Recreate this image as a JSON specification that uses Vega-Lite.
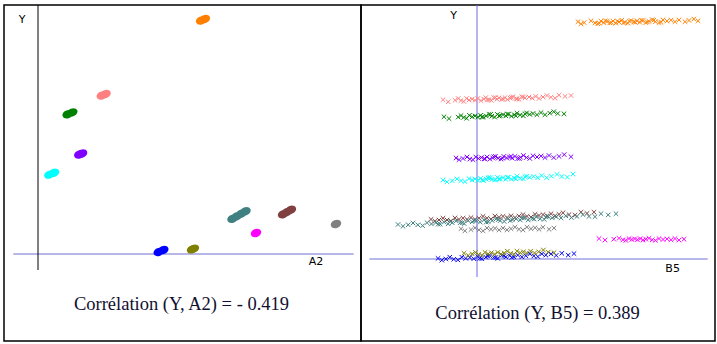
{
  "$schema": "https://vega.github.io/schema/vega-lite/v6.json",
  "padding": {"left": 3, "top": 3, "right": 3, "bottom": 5},
  "spacing": 0,
  "bounds": "flush",
  "background": "white",
  "config": {"view": {"stroke": "#000000", "strokeWidth": 1.5}, "axis": {"disable": true}},
  "resolve": {"scale": {"x": "independent", "y": "independent"}},
  "datasets": {
    "a2": [
      {"c": "orange", "a2": 4.798, "y": 7.785}, {"c": "orange", "a2": 4.908, "y": 7.835},
      {"c": "pink", "a2": 1.878, "y": 5.285}, {"c": "pink", "a2": 1.987, "y": 5.335},
      {"c": "green", "a2": 0.873, "y": 4.659}, {"c": "green", "a2": 1.009, "y": 4.721},
      {"c": "purple", "a2": 1.215, "y": 3.314}, {"c": "purple", "a2": 1.297, "y": 3.352},
      {"c": "cyan", "a2": 0.335, "y": 2.646}, {"c": "cyan", "a2": 0.471, "y": 2.708},
      {"c": "brown", "a2": 7.209, "y": 1.325}, {"c": "brown", "a2": 7.324, "y": 1.4}, {"c": "brown", "a2": 7.439, "y": 1.475},
      {"c": "teal", "a2": 5.721, "y": 1.175}, {"c": "teal", "a2": 5.848, "y": 1.258}, {"c": "teal", "a2": 5.976, "y": 1.342}, {"c": "teal", "a2": 6.103, "y": 1.425},
      {"c": "gray", "a2": 8.765, "y": 1.0},
      {"c": "magenta", "a2": 6.412, "y": 0.7},
      {"c": "olive", "a2": 4.532, "y": 0.154}, {"c": "olive", "a2": 4.586, "y": 0.179},
      {"c": "blue", "a2": 3.55, "y": 0.069}, {"c": "blue", "a2": 3.686, "y": 0.131}
    ],
    "b5": [
      {"c":"orange","b5":2.525,"y":7.91},{"c":"orange","b5":2.6,"y":7.84},{"c":"orange","b5":2.68,"y":7.88},{"c":"orange","b5":2.85,"y":7.94},{"c":"orange","b5":2.95,"y":7.87},{"c":"orange","b5":3.02,"y":7.84},{"c":"orange","b5":3.1,"y":7.93},{"c":"orange","b5":3.17,"y":7.88},{"c":"orange","b5":3.25,"y":7.92},{"c":"orange","b5":3.32,"y":7.87},{"c":"orange","b5":3.4,"y":7.93},{"c":"orange","b5":3.47,"y":7.86},{"c":"orange","b5":3.55,"y":7.9},{"c":"orange","b5":3.62,"y":7.96},{"c":"orange","b5":3.7,"y":7.89},{"c":"orange","b5":3.77,"y":7.86},{"c":"orange","b5":3.85,"y":7.95},{"c":"orange","b5":3.92,"y":7.9},{"c":"orange","b5":4.0,"y":7.94},{"c":"orange","b5":4.07,"y":7.89},{"c":"orange","b5":4.15,"y":7.95},{"c":"orange","b5":4.22,"y":7.88},{"c":"orange","b5":4.3,"y":7.92},{"c":"orange","b5":4.38,"y":7.98},{"c":"orange","b5":4.46,"y":7.91},{"c":"orange","b5":4.55,"y":7.88},{"c":"orange","b5":4.65,"y":7.97},{"c":"orange","b5":4.75,"y":7.93},{"c":"orange","b5":4.85,"y":7.96},{"c":"orange","b5":4.95,"y":7.91},{"c":"orange","b5":5.05,"y":7.97},{"c":"orange","b5":5.2,"y":7.91},{"c":"orange","b5":5.3,"y":7.95},{"c":"orange","b5":5.42,"y":8.0},{"c":"orange","b5":5.525,"y":7.94},
      {"c":"orange","b5":3.06,"y":7.86},{"c":"orange","b5":3.21,"y":7.94},{"c":"orange","b5":3.36,"y":7.88},{"c":"orange","b5":3.51,"y":7.93},{"c":"orange","b5":3.66,"y":7.87},{"c":"orange","b5":3.81,"y":7.93},{"c":"orange","b5":3.96,"y":7.89},{"c":"orange","b5":4.11,"y":7.96},{"c":"orange","b5":4.26,"y":7.9},{"c":"orange","b5":4.42,"y":7.96},{"c":"orange","b5":4.6,"y":7.89},
      {"c":"pink","b5":-0.85,"y":5.31},{"c":"pink","b5":-0.72,"y":5.24},{"c":"pink","b5":-0.55,"y":5.29},{"c":"pink","b5":-0.47,"y":5.35},{"c":"pink","b5":-0.4,"y":5.28},{"c":"pink","b5":-0.33,"y":5.25},{"c":"pink","b5":-0.26,"y":5.35},{"c":"pink","b5":-0.2,"y":5.3},{"c":"pink","b5":-0.12,"y":5.33},{"c":"pink","b5":-0.05,"y":5.29},{"c":"pink","b5":0.02,"y":5.35},{"c":"pink","b5":0.1,"y":5.28},{"c":"pink","b5":0.17,"y":5.33},{"c":"pink","b5":0.22,"y":5.38},{"c":"pink","b5":0.3,"y":5.31},{"c":"pink","b5":0.36,"y":5.29},{"c":"pink","b5":0.42,"y":5.38},{"c":"pink","b5":0.5,"y":5.33},{"c":"pink","b5":0.55,"y":5.37},{"c":"pink","b5":0.62,"y":5.32},{"c":"pink","b5":0.7,"y":5.38},{"c":"pink","b5":0.76,"y":5.32},{"c":"pink","b5":0.83,"y":5.36},{"c":"pink","b5":0.9,"y":5.41},{"c":"pink","b5":0.98,"y":5.35},{"c":"pink","b5":1.05,"y":5.32},{"c":"pink","b5":1.12,"y":5.41},{"c":"pink","b5":1.2,"y":5.37},{"c":"pink","b5":1.3,"y":5.4},{"c":"pink","b5":1.38,"y":5.36},{"c":"pink","b5":1.47,"y":5.42},{"c":"pink","b5":1.55,"y":5.35},{"c":"pink","b5":1.65,"y":5.4},{"c":"pink","b5":1.75,"y":5.45},{"c":"pink","b5":1.85,"y":5.39},{"c":"pink","b5":1.95,"y":5.36},{"c":"pink","b5":2.05,"y":5.46},{"c":"pink","b5":2.2,"y":5.42},{"c":"pink","b5":2.35,"y":5.45},
      {"c":"pink","b5":0.26,"y":5.3},{"c":"pink","b5":0.46,"y":5.38},{"c":"pink","b5":0.66,"y":5.33},{"c":"pink","b5":0.86,"y":5.39},{"c":"pink","b5":1.0,"y":5.33},{"c":"pink","b5":1.16,"y":5.4},
      {"c":"green","b5":-0.825,"y":4.74},{"c":"green","b5":-0.7,"y":4.68},{"c":"green","b5":-0.47,"y":4.73},{"c":"green","b5":-0.4,"y":4.78},{"c":"green","b5":-0.33,"y":4.72},{"c":"green","b5":-0.26,"y":4.69},{"c":"green","b5":-0.19,"y":4.79},{"c":"green","b5":-0.12,"y":4.74},{"c":"green","b5":-0.05,"y":4.77},{"c":"green","b5":0.02,"y":4.73},{"c":"green","b5":0.09,"y":4.79},{"c":"green","b5":0.16,"y":4.73},{"c":"green","b5":0.23,"y":4.77},{"c":"green","b5":0.3,"y":4.82},{"c":"green","b5":0.37,"y":4.76},{"c":"green","b5":0.44,"y":4.73},{"c":"green","b5":0.51,"y":4.82},{"c":"green","b5":0.58,"y":4.78},{"c":"green","b5":0.65,"y":4.81},{"c":"green","b5":0.72,"y":4.77},{"c":"green","b5":0.79,"y":4.83},{"c":"green","b5":0.86,"y":4.76},{"c":"green","b5":0.93,"y":4.81},{"c":"green","b5":1.0,"y":4.86},{"c":"green","b5":1.08,"y":4.8},{"c":"green","b5":1.16,"y":4.77},{"c":"green","b5":1.24,"y":4.87},{"c":"green","b5":1.32,"y":4.82},{"c":"green","b5":1.4,"y":4.85},{"c":"green","b5":1.5,"y":4.81},{"c":"green","b5":1.6,"y":4.88},{"c":"green","b5":1.7,"y":4.81},{"c":"green","b5":1.82,"y":4.86},{"c":"green","b5":1.92,"y":4.91},{"c":"green","b5":2.02,"y":4.85},{"c":"green","b5":2.175,"y":4.84},
      {"c":"green","b5":0.12,"y":4.73},{"c":"green","b5":0.34,"y":4.82},{"c":"green","b5":0.55,"y":4.77},{"c":"green","b5":0.76,"y":4.83},{"c":"green","b5":0.97,"y":4.77},{"c":"green","b5":1.2,"y":4.84},
      {"c":"purple","b5":-0.525,"y":3.37},{"c":"purple","b5":-0.45,"y":3.31},{"c":"purple","b5":-0.35,"y":3.35},{"c":"purple","b5":-0.25,"y":3.4},{"c":"purple","b5":-0.18,"y":3.33},{"c":"purple","b5":-0.1,"y":3.31},{"c":"purple","b5":-0.03,"y":3.4},{"c":"purple","b5":0.04,"y":3.35},{"c":"purple","b5":0.11,"y":3.38},{"c":"purple","b5":0.18,"y":3.34},{"c":"purple","b5":0.25,"y":3.4},{"c":"purple","b5":0.32,"y":3.33},{"c":"purple","b5":0.39,"y":3.37},{"c":"purple","b5":0.46,"y":3.42},{"c":"purple","b5":0.53,"y":3.36},{"c":"purple","b5":0.6,"y":3.33},{"c":"purple","b5":0.67,"y":3.42},{"c":"purple","b5":0.74,"y":3.37},{"c":"purple","b5":0.81,"y":3.4},{"c":"purple","b5":0.88,"y":3.36},{"c":"purple","b5":0.95,"y":3.42},{"c":"purple","b5":1.02,"y":3.35},{"c":"purple","b5":1.09,"y":3.39},{"c":"purple","b5":1.16,"y":3.45},{"c":"purple","b5":1.24,"y":3.38},{"c":"purple","b5":1.32,"y":3.35},{"c":"purple","b5":1.4,"y":3.44},{"c":"purple","b5":1.5,"y":3.4},{"c":"purple","b5":1.6,"y":3.43},{"c":"purple","b5":1.7,"y":3.38},{"c":"purple","b5":1.8,"y":3.45},{"c":"purple","b5":1.92,"y":3.38},{"c":"purple","b5":2.05,"y":3.42},{"c":"purple","b5":2.18,"y":3.48},{"c":"purple","b5":2.35,"y":3.41},
      {"c":"purple","b5":0.2,"y":3.34},{"c":"purple","b5":0.42,"y":3.41},{"c":"purple","b5":0.64,"y":3.36},{"c":"purple","b5":0.85,"y":3.42},{"c":"purple","b5":1.06,"y":3.35},
      {"c":"cyan","b5":-0.85,"y":2.63},{"c":"cyan","b5":-0.75,"y":2.57},{"c":"cyan","b5":-0.62,"y":2.61},{"c":"cyan","b5":-0.5,"y":2.67},{"c":"cyan","b5":-0.4,"y":2.61},{"c":"cyan","b5":-0.3,"y":2.58},{"c":"cyan","b5":-0.2,"y":2.68},{"c":"cyan","b5":-0.12,"y":2.63},{"c":"cyan","b5":-0.05,"y":2.67},{"c":"cyan","b5":0.02,"y":2.62},{"c":"cyan","b5":0.09,"y":2.69},{"c":"cyan","b5":0.16,"y":2.62},{"c":"cyan","b5":0.23,"y":2.66},{"c":"cyan","b5":0.3,"y":2.72},{"c":"cyan","b5":0.37,"y":2.65},{"c":"cyan","b5":0.44,"y":2.63},{"c":"cyan","b5":0.51,"y":2.72},{"c":"cyan","b5":0.58,"y":2.67},{"c":"cyan","b5":0.65,"y":2.71},{"c":"cyan","b5":0.72,"y":2.66},{"c":"cyan","b5":0.79,"y":2.73},{"c":"cyan","b5":0.86,"y":2.66},{"c":"cyan","b5":0.93,"y":2.7},{"c":"cyan","b5":1.0,"y":2.76},{"c":"cyan","b5":1.08,"y":2.69},{"c":"cyan","b5":1.16,"y":2.67},{"c":"cyan","b5":1.24,"y":2.76},{"c":"cyan","b5":1.32,"y":2.72},{"c":"cyan","b5":1.42,"y":2.75},{"c":"cyan","b5":1.52,"y":2.71},{"c":"cyan","b5":1.62,"y":2.78},{"c":"cyan","b5":1.74,"y":2.71},{"c":"cyan","b5":1.86,"y":2.76},{"c":"cyan","b5":2.0,"y":2.82},{"c":"cyan","b5":2.12,"y":2.75},{"c":"cyan","b5":2.26,"y":2.73},{"c":"cyan","b5":2.4,"y":2.83},
      {"c":"cyan","b5":0.13,"y":2.63},{"c":"cyan","b5":0.27,"y":2.7},{"c":"cyan","b5":0.34,"y":2.71},{"c":"cyan","b5":0.47,"y":2.65},{"c":"cyan","b5":0.55,"y":2.66},{"c":"cyan","b5":0.76,"y":2.72},{"c":"cyan","b5":0.97,"y":2.67},{"c":"cyan","b5":1.2,"y":2.74},
      {"c":"brown","b5":-1.15,"y":1.32},{"c":"brown","b5":-1.05,"y":1.26},{"c":"brown","b5":-0.95,"y":1.3},{"c":"brown","b5":-0.85,"y":1.36},{"c":"brown","b5":-0.75,"y":1.3},{"c":"brown","b5":-0.65,"y":1.27},{"c":"brown","b5":-0.55,"y":1.37},{"c":"brown","b5":-0.45,"y":1.32},{"c":"brown","b5":-0.35,"y":1.36},{"c":"brown","b5":-0.25,"y":1.32},{"c":"brown","b5":-0.15,"y":1.38},{"c":"brown","b5":-0.05,"y":1.32},{"c":"brown","b5":0.05,"y":1.36},{"c":"brown","b5":0.15,"y":1.42},{"c":"brown","b5":0.25,"y":1.36},{"c":"brown","b5":0.35,"y":1.33},{"c":"brown","b5":0.45,"y":1.43},{"c":"brown","b5":0.55,"y":1.39},{"c":"brown","b5":0.65,"y":1.42},{"c":"brown","b5":0.75,"y":1.38},{"c":"brown","b5":0.85,"y":1.44},{"c":"brown","b5":0.95,"y":1.38},{"c":"brown","b5":1.05,"y":1.43},{"c":"brown","b5":1.15,"y":1.48},{"c":"brown","b5":1.25,"y":1.42},{"c":"brown","b5":1.35,"y":1.4},{"c":"brown","b5":1.45,"y":1.49},{"c":"brown","b5":1.55,"y":1.45},{"c":"brown","b5":1.65,"y":1.48},{"c":"brown","b5":1.75,"y":1.44},{"c":"brown","b5":1.85,"y":1.51},{"c":"brown","b5":1.95,"y":1.44},{"c":"brown","b5":2.05,"y":1.49},{"c":"brown","b5":2.15,"y":1.54},{"c":"brown","b5":2.3,"y":1.48},{"c":"brown","b5":2.45,"y":1.46},{"c":"brown","b5":2.6,"y":1.56},{"c":"brown","b5":2.75,"y":1.52},{"c":"brown","b5":2.925,"y":1.56},
      {"c":"teal","b5":-1.975,"y":1.15},{"c":"teal","b5":-1.85,"y":1.09},{"c":"teal","b5":-1.72,"y":1.14},{"c":"teal","b5":-1.6,"y":1.2},{"c":"teal","b5":-1.48,"y":1.14},{"c":"teal","b5":-1.36,"y":1.11},{"c":"teal","b5":-1.25,"y":1.21},{"c":"teal","b5":-1.14,"y":1.17},{"c":"teal","b5":-1.03,"y":1.21},{"c":"teal","b5":-0.92,"y":1.16},{"c":"teal","b5":-0.82,"y":1.23},{"c":"teal","b5":-0.72,"y":1.17},{"c":"teal","b5":-0.62,"y":1.21},{"c":"teal","b5":-0.52,"y":1.27},{"c":"teal","b5":-0.42,"y":1.21},{"c":"teal","b5":-0.32,"y":1.18},{"c":"teal","b5":-0.22,"y":1.28},{"c":"teal","b5":-0.12,"y":1.24},{"c":"teal","b5":-0.02,"y":1.28},{"c":"teal","b5":0.08,"y":1.23},{"c":"teal","b5":0.18,"y":1.3},{"c":"teal","b5":0.28,"y":1.24},{"c":"teal","b5":0.38,"y":1.28},{"c":"teal","b5":0.48,"y":1.34},{"c":"teal","b5":0.58,"y":1.28},{"c":"teal","b5":0.68,"y":1.25},{"c":"teal","b5":0.78,"y":1.35},{"c":"teal","b5":0.88,"y":1.31},{"c":"teal","b5":0.98,"y":1.34},{"c":"teal","b5":1.08,"y":1.3},{"c":"teal","b5":1.18,"y":1.37},{"c":"teal","b5":1.28,"y":1.3},{"c":"teal","b5":1.38,"y":1.35},{"c":"teal","b5":1.48,"y":1.41},{"c":"teal","b5":1.58,"y":1.34},{"c":"teal","b5":1.68,"y":1.32},{"c":"teal","b5":1.78,"y":1.42},{"c":"teal","b5":1.88,"y":1.37},{"c":"teal","b5":1.98,"y":1.41},{"c":"teal","b5":2.1,"y":1.37},{"c":"teal","b5":2.22,"y":1.44},{"c":"teal","b5":2.36,"y":1.38},{"c":"teal","b5":2.5,"y":1.42},{"c":"teal","b5":2.65,"y":1.48},{"c":"teal","b5":2.8,"y":1.42},{"c":"teal","b5":2.95,"y":1.41},{"c":"teal","b5":3.1,"y":1.51},{"c":"teal","b5":3.28,"y":1.47},{"c":"teal","b5":3.475,"y":1.51},
      {"c":"teal","b5":-0.97,"y":1.16},{"c":"teal","b5":-0.67,"y":1.25},{"c":"teal","b5":-0.37,"y":1.21},{"c":"teal","b5":-0.07,"y":1.28},{"c":"teal","b5":0.23,"y":1.23},{"c":"teal","b5":0.53,"y":1.31},{"c":"teal","b5":0.83,"y":1.28},{"c":"teal","b5":1.13,"y":1.37},{"c":"teal","b5":1.43,"y":1.33},{"c":"teal","b5":1.73,"y":1.4},
      {"c":"gray","b5":-0.4,"y":1.01},{"c":"gray","b5":-0.3,"y":0.94},{"c":"gray","b5":-0.15,"y":0.98},{"c":"gray","b5":-0.05,"y":1.04},{"c":"gray","b5":0.05,"y":0.97},{"c":"gray","b5":0.15,"y":0.94},{"c":"gray","b5":0.25,"y":1.03},{"c":"gray","b5":0.35,"y":0.99},{"c":"gray","b5":0.45,"y":1.02},{"c":"gray","b5":0.55,"y":0.97},{"c":"gray","b5":0.65,"y":1.03},{"c":"gray","b5":0.75,"y":0.97},{"c":"gray","b5":0.85,"y":1.01},{"c":"gray","b5":0.95,"y":1.06},{"c":"gray","b5":1.05,"y":0.99},{"c":"gray","b5":1.15,"y":0.97},{"c":"gray","b5":1.25,"y":1.06},{"c":"gray","b5":1.35,"y":1.01},{"c":"gray","b5":1.45,"y":1.04},{"c":"gray","b5":1.55,"y":0.99},{"c":"gray","b5":1.65,"y":1.06},{"c":"gray","b5":1.8,"y":0.99},{"c":"gray","b5":1.925,"y":1.03},
      {"c":"magenta","b5":3.05,"y":0.68},{"c":"magenta","b5":3.2,"y":0.63},{"c":"magenta","b5":3.42,"y":0.66},{"c":"magenta","b5":3.55,"y":0.69},{"c":"magenta","b5":3.65,"y":0.64},{"c":"magenta","b5":3.72,"y":0.62},{"c":"magenta","b5":3.8,"y":0.68},{"c":"magenta","b5":3.87,"y":0.65},{"c":"magenta","b5":3.94,"y":0.67},{"c":"magenta","b5":4.01,"y":0.64},{"c":"magenta","b5":4.08,"y":0.68},{"c":"magenta","b5":4.15,"y":0.63},{"c":"magenta","b5":4.22,"y":0.66},{"c":"magenta","b5":4.3,"y":0.69},{"c":"magenta","b5":4.38,"y":0.64},{"c":"magenta","b5":4.46,"y":0.62},{"c":"magenta","b5":4.55,"y":0.68},{"c":"magenta","b5":4.65,"y":0.65},{"c":"magenta","b5":4.75,"y":0.67},{"c":"magenta","b5":4.85,"y":0.64},{"c":"magenta","b5":4.95,"y":0.68},{"c":"magenta","b5":5.05,"y":0.63},{"c":"magenta","b5":5.175,"y":0.66},
      {"c":"blue","b5":-0.975,"y":0.02},{"c":"blue","b5":-0.88,"y":-0.04},{"c":"blue","b5":-0.78,"y":0.0},{"c":"blue","b5":-0.68,"y":0.06},{"c":"blue","b5":-0.58,"y":-0.01},{"c":"blue","b5":-0.48,"y":-0.03},{"c":"blue","b5":-0.38,"y":0.06},{"c":"blue","b5":-0.28,"y":0.02},{"c":"blue","b5":-0.18,"y":0.05},{"c":"blue","b5":-0.08,"y":0.01},{"c":"blue","b5":0.02,"y":0.08},{"c":"blue","b5":0.12,"y":0.01},{"c":"blue","b5":0.22,"y":0.06},{"c":"blue","b5":0.32,"y":0.11},{"c":"blue","b5":0.42,"y":0.05},{"c":"blue","b5":0.52,"y":0.02},{"c":"blue","b5":0.62,"y":0.12},{"c":"blue","b5":0.72,"y":0.07},{"c":"blue","b5":0.82,"y":0.11},{"c":"blue","b5":0.92,"y":0.07},{"c":"blue","b5":1.02,"y":0.13},{"c":"blue","b5":1.12,"y":0.07},{"c":"blue","b5":1.22,"y":0.11},{"c":"blue","b5":1.32,"y":0.17},{"c":"blue","b5":1.42,"y":0.1},{"c":"blue","b5":1.52,"y":0.08},{"c":"blue","b5":1.62,"y":0.17},{"c":"blue","b5":1.72,"y":0.13},{"c":"blue","b5":1.85,"y":0.17},{"c":"blue","b5":1.98,"y":0.12},{"c":"blue","b5":2.12,"y":0.19},{"c":"blue","b5":2.28,"y":0.13},{"c":"blue","b5":2.425,"y":0.18},
      {"c":"blue","b5":0.07,"y":0.02},{"c":"blue","b5":0.27,"y":0.1},{"c":"blue","b5":0.47,"y":0.05},{"c":"blue","b5":0.67,"y":0.11},{"c":"blue","b5":0.87,"y":0.05},
      {"c":"olive","b5":-0.325,"y":0.19},{"c":"olive","b5":-0.22,"y":0.12},{"c":"olive","b5":-0.12,"y":0.17},{"c":"olive","b5":-0.04,"y":0.22},{"c":"olive","b5":0.04,"y":0.15},{"c":"olive","b5":0.12,"y":0.13},{"c":"olive","b5":0.2,"y":0.22},{"c":"olive","b5":0.28,"y":0.17},{"c":"olive","b5":0.36,"y":0.21},{"c":"olive","b5":0.44,"y":0.16},{"c":"olive","b5":0.52,"y":0.22},{"c":"olive","b5":0.6,"y":0.16},{"c":"olive","b5":0.68,"y":0.2},{"c":"olive","b5":0.76,"y":0.26},{"c":"olive","b5":0.84,"y":0.19},{"c":"olive","b5":0.92,"y":0.16},{"c":"olive","b5":1.0,"y":0.26},{"c":"olive","b5":1.08,"y":0.21},{"c":"olive","b5":1.16,"y":0.24},{"c":"olive","b5":1.24,"y":0.2},{"c":"olive","b5":1.34,"y":0.26},{"c":"olive","b5":1.44,"y":0.2},{"c":"olive","b5":1.54,"y":0.24},{"c":"olive","b5":1.66,"y":0.3},{"c":"olive","b5":1.78,"y":0.23},{"c":"olive","b5":1.925,"y":0.21}
    ]
  },
  "hconcat": [
    {
      "width": 357,
      "height": 336,
      "layer": [
        {
          "data": {"values": [{}]},
          "mark": {"type": "rule", "color": "#7070d0", "strokeWidth": 1},
          "encoding": {
            "x": {"datum": -0.726, "type": "quantitative", "scale": {"domain": [-1, 9.5], "nice": false, "zero": false}, "axis": null},
            "x2": {"datum": 9.285},
            "y": {"datum": 0, "type": "quantitative", "scale": {"domain": [-2.9, 8.3], "nice": false, "zero": false}, "axis": null}
          }
        },
        {
          "data": {"values": [{}]},
          "mark": {"type": "rule", "color": "#000000", "strokeWidth": 1},
          "encoding": {
            "x": {"datum": 0, "type": "quantitative", "scale": {"domain": [-1, 9.5], "nice": false, "zero": false}, "axis": null},
            "y": {"datum": 8.3, "type": "quantitative", "scale": {"domain": [-2.9, 8.3], "nice": false, "zero": false}, "axis": null},
            "y2": {"datum": -0.533}
          }
        },
        {
          "data": {"name": "a2"},
          "mark": {"type": "point", "shape": "M -1 0 A 1 0.75 0 1 0 1 0 A 1 0.75 0 1 0 -1 0 Z", "filled": true, "size": 115, "angle": -22, "opacity": 1, "strokeWidth": 0},
          "encoding": {
            "x": {"field": "a2", "type": "quantitative", "scale": {"domain": [-1, 9.5], "nice": false, "zero": false}, "axis": null},
            "y": {"field": "y", "type": "quantitative", "scale": {"domain": [-2.9, 8.3], "nice": false, "zero": false}, "axis": null},
            "color": {"field": "c", "type": "nominal", "legend": null,
              "scale": {"domain": ["orange","pink","green","purple","cyan","brown","teal","gray","magenta","olive","blue"],
                        "range": ["#ff8000","#ff8080","#008000","#8000ff","#00ffff","#804040","#408080","#808080","#ff00ff","#808000","#0000ff"]}}
          }
        },
        {
          "data": {"values": [{"t": "Y", "x": -0.47, "y": 7.79}, {"t": "A2", "x": 8.176, "y": -0.283}]},
          "mark": {"type": "text", "font": "DejaVu Sans", "fontSize": 11, "color": "#000000", "align": "center", "baseline": "middle"},
          "encoding": {
            "x": {"field": "x", "type": "quantitative", "scale": {"domain": [-1, 9.5], "nice": false, "zero": false}, "axis": null},
            "y": {"field": "y", "type": "quantitative", "scale": {"domain": [-2.9, 8.3], "nice": false, "zero": false}, "axis": null},
            "text": {"field": "t"}
          }
        },
        {
          "data": {"values": [{"t": "Corrélation (Y, A2) = - 0.419", "x": 4.22, "y": -1.85}]},
          "mark": {"type": "text", "font": "Liberation Serif", "fontSize": 18.5, "color": "#101030", "align": "center", "baseline": "alphabetic"},
          "encoding": {
            "x": {"field": "x", "type": "quantitative", "scale": {"domain": [-1, 9.5], "nice": false, "zero": false}, "axis": null},
            "y": {"field": "y", "type": "quantitative", "scale": {"domain": [-2.9, 8.3], "nice": false, "zero": false}, "axis": null},
            "text": {"field": "t"}
          }
        }
      ]
    },
    {
      "width": 354,
      "height": 336,
      "layer": [
        {
          "data": {"values": [{}]},
          "mark": {"type": "rule", "color": "#7070d8", "strokeWidth": 1},
          "encoding": {
            "x": {"datum": -2.69, "type": "quantitative", "scale": {"domain": [-2.9, 5.95], "nice": false, "zero": false}, "axis": null},
            "x2": {"datum": 5.767},
            "y": {"datum": 0, "type": "quantitative", "scale": {"domain": [-2.7333, 8.4667], "nice": false, "zero": false}, "axis": null}
          }
        },
        {
          "data": {"values": [{}]},
          "mark": {"type": "rule", "color": "#6a6ae8", "strokeWidth": 1},
          "encoding": {
            "x": {"datum": 0, "type": "quantitative", "scale": {"domain": [-2.9, 5.95], "nice": false, "zero": false}, "axis": null},
            "y": {"datum": 8.4667, "type": "quantitative", "scale": {"domain": [-2.7333, 8.4667], "nice": false, "zero": false}, "axis": null},
            "y2": {"datum": -0.6}
          }
        },
        {
          "data": {"name": "b5"},
          "mark": {"type": "point", "shape": "M -1 -1 L 1 1 M -1 1 L 1 -1", "filled": false, "size": 20, "strokeWidth": 1, "opacity": 1},
          "encoding": {
            "x": {"field": "b5", "type": "quantitative", "scale": {"domain": [-2.9, 5.95], "nice": false, "zero": false}, "axis": null},
            "y": {"field": "y", "type": "quantitative", "scale": {"domain": [-2.7333, 8.4667], "nice": false, "zero": false}, "axis": null},
            "color": {"field": "c", "type": "nominal", "legend": null,
              "scale": {"domain": ["orange","pink","green","purple","cyan","brown","teal","gray","magenta","olive","blue"],
                        "range": ["#ff8000","#ff8080","#008000","#8000ff","#00ffff","#804040","#408080","#808080","#ff00ff","#808000","#0000ff"]}}
          }
        },
        {
          "data": {"values": [{"t": "Y", "x": -0.583, "y": 8.11}, {"t": "B5", "x": 4.89, "y": -0.333}]},
          "mark": {"type": "text", "font": "DejaVu Sans", "fontSize": 11, "color": "#000000", "align": "center", "baseline": "middle"},
          "encoding": {
            "x": {"field": "x", "type": "quantitative", "scale": {"domain": [-2.9, 5.95], "nice": false, "zero": false}, "axis": null},
            "y": {"field": "y", "type": "quantitative", "scale": {"domain": [-2.7333, 8.4667], "nice": false, "zero": false}, "axis": null},
            "text": {"field": "t"}
          }
        },
        {
          "data": {"values": [{"t": "Corrélation (Y, B5) = 0.389", "x": 1.5125, "y": -2.01}]},
          "mark": {"type": "text", "font": "Liberation Serif", "fontSize": 18.5, "color": "#101030", "align": "center", "baseline": "alphabetic"},
          "encoding": {
            "x": {"field": "x", "type": "quantitative", "scale": {"domain": [-2.9, 5.95], "nice": false, "zero": false}, "axis": null},
            "y": {"field": "y", "type": "quantitative", "scale": {"domain": [-2.7333, 8.4667], "nice": false, "zero": false}, "axis": null},
            "text": {"field": "t"}
          }
        }
      ]
    }
  ]
}
